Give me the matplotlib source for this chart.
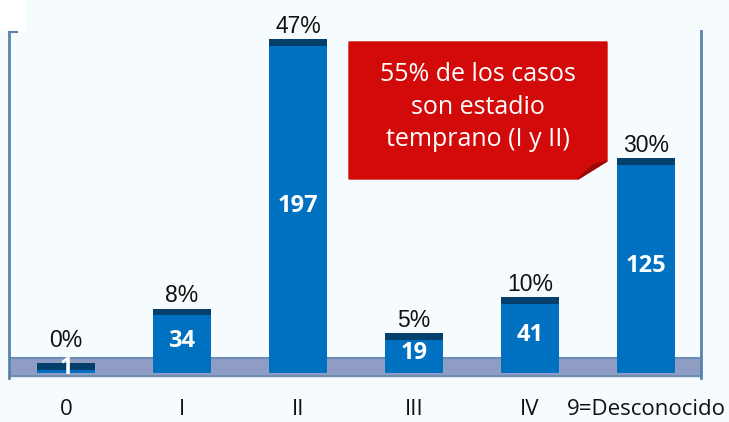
import matplotlib.pyplot as plt
from matplotlib.patches import Polygon

categories = ['0', 'I', 'II', 'III', 'IV', '9=Desconocido']
counts = [1, 34, 197, 19, 41, 125]
percents = ['0%', '8%', '47%', '5%', '10%', '30%']
note = '55% de los casos\nson estadio\ntemprano (I y II)'

bg = '#f6fcfd'
blue = '#0070c0'
dark = '#053f6b'
edge = '#5d82a8'

fig = plt.figure(figsize=(7.29, 4.22), dpi=100, facecolor=bg)
W, H = 729, 422
ax = fig.add_axes([9 / W, 1 - 378 / H, (701 - 9) / W, (378 - 31) / H])
ax.set_facecolor(bg)

x = list(range(len(categories)))
base = -5
cap = 4
floor_top = 4.2

# floor of the 3d chart
ax.axhspan(-6.7, floor_top, color='#8f9dc5', zorder=1)
ax.axhline(floor_top, color='#6d8db7', lw=1.5, zorder=1.5)
ax.axhline(-6.7, color='#6f8fb0', lw=1.5, zorder=1.5)

for xi, v, p in zip(x, counts, percents):
    lo = base
    hi = v - cap
    if hi > lo:
        ax.bar(xi, hi - lo, bottom=lo, width=0.5, color=blue, zorder=2)
    ax.bar(xi, cap, bottom=v - cap, width=0.5, color=dark, zorder=2)
    ax.text(xi, max(v, floor_top + 3) + 0.8, p, ha='center', va='bottom', fontsize=16.5,
            family='Liberation Sans', color='#111111', zorder=3)
    ax.text(xi, (v + base) / 2, str(v), ha='center', va='center', fontsize=17,
            family='Open Sans', fontweight='bold', color='white', zorder=3)

ax.set_xlim(-0.491, 5.474)
ax.set_ylim(-7.9, 201.8)
ax.set_yticks([])
ax.set_xticks(x)
ax.set_xticklabels(categories, fontsize=16, family='Open Sans', color='#111111')
ax.tick_params(axis='x', length=0, pad=15)
for s in ['top', 'bottom']:
    ax.spines[s].set_visible(False)
for s in ['left', 'right']:
    ax.spines[s].set_color(edge)
    ax.spines[s].set_linewidth(2)

# overlay in pixel coordinates for the callout
ov = fig.add_axes([0, 0, 1, 1], facecolor='none')
ov.set_xlim(0, W)
ov.set_ylim(H, 0)
ov.axis('off')
ov.add_patch(Polygon([(0, 0), (25, 0), (25, 30), (0, 30)], closed=True,
                     color='white', zorder=0))
ov.plot([9, 17], [32, 32], color=edge, lw=1.5)
ov.add_patch(Polygon([(349, 42), (607, 42), (607, 161), (578, 179), (349, 179)],
                     closed=True, color='#d20a0a'))
ov.add_patch(Polygon([(578, 179), (607, 161), (593, 165)], closed=True,
                     color='#9a0808'))
ov.text(478, 107, note, ha='center', va='center', fontsize=18, family='Open Sans',
        color='white', linespacing=1.4)

fig.savefig('out.png', dpi=100, facecolor=bg)
